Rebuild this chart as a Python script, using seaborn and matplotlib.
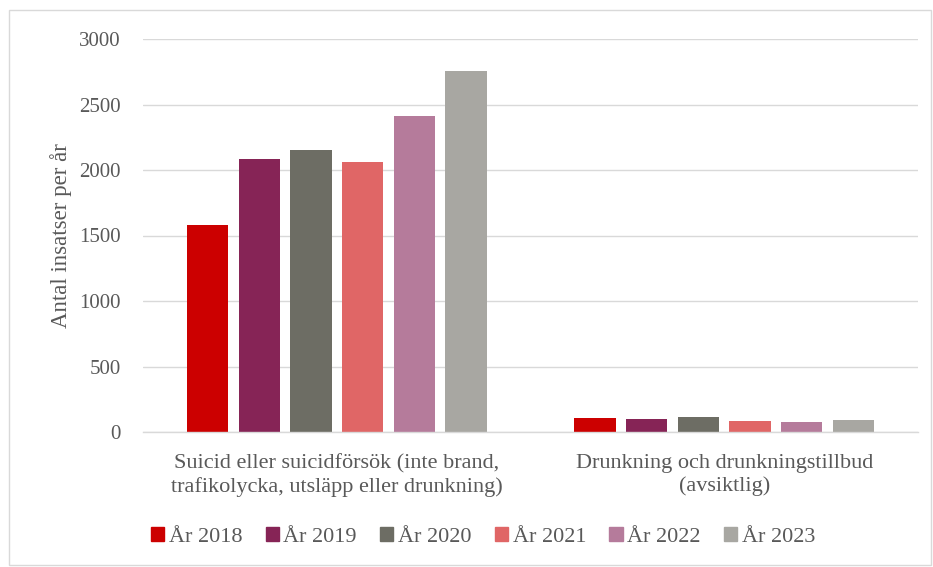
import matplotlib
matplotlib.use("Agg")
import matplotlib.pyplot as plt
import seaborn as sns
import pandas as pd
from matplotlib.patches import Rectangle

categories = ["Suicid eller suicidförsök (inte brand,\ntrafikolycka, utsläpp eller drunkning)",
              "Drunkning och drunkningstillbud\n(avsiktlig)"]
years = ["År 2018", "År 2019", "År 2020", "År 2021", "År 2022", "År 2023"]
suicid = [1580, 2084, 2153, 2061, 2412, 2756]
drunkning = [109, 99, 114, 86, 76, 92]
colors = ["#cc0000", "#862456", "#6d6d64", "#e06666", "#b57b9b", "#a8a7a2"]

rows = []
for y, a, b in zip(years, suicid, drunkning):
    rows.append({"kategori": categories[0], "år": y, "värde": a})
    rows.append({"kategori": categories[1], "år": y, "värde": b})
df = pd.DataFrame(rows)

sns.set_style("white")
plt.rcParams['font.family'] = ['Liberation Serif', 'DejaVu Serif']

fig = plt.figure(figsize=(9.33, 5.67), dpi=100)
ax = fig.add_axes([143/933, 1-432/567, (918-143)/933, (432-39)/567])

sns.barplot(data=df, x="kategori", y="värde", hue="år", order=categories,
            hue_order=years, palette=colors, width=0.8, gap=0.2,
            ax=ax, legend=False, edgecolor="none", saturation=1)

ax.set_ylim(0, 3000)
ax.set_yticks(range(0, 3001, 500))
ax.yaxis.grid(True, color="#d9d9d9", linewidth=1)
ax.set_axisbelow(True)
for s in ["left", "right", "top"]:
    ax.spines[s].set_visible(False)
ax.spines["bottom"].set_color("#d9d9d9")
ax.spines["bottom"].set_linewidth(1)
ax.tick_params(axis="both", length=0, colors="#595959")
ax.tick_params(axis="y", pad=16, labelsize=15)
ax.tick_params(axis="x", pad=16, labelsize=16)
for lbl in ax.get_xticklabels():
    lbl.set_linespacing(1.2)
ax.set_xlabel("")
ax.set_ylabel("Antal insatser per år", fontsize=16.5, color="#595959", labelpad=5)

handles = [Rectangle((0, 0), 1, 1, color=c) for c in colors]
fig.legend(handles, years, loc="center", bbox_to_anchor=(483/933, 1-537/567),
           ncol=6, frameon=False, fontsize=16, handlelength=0.6, handleheight=0.6,
           handletextpad=0.2, columnspacing=1.05, labelcolor="#595959")

fig.patches.append(Rectangle((9/933, 2/567), (931-9)/933, (557-2)/567,
                             transform=fig.transFigure, fill=False,
                             edgecolor="#d9d9d9", linewidth=1))

fig.savefig("out.png", dpi=100)
